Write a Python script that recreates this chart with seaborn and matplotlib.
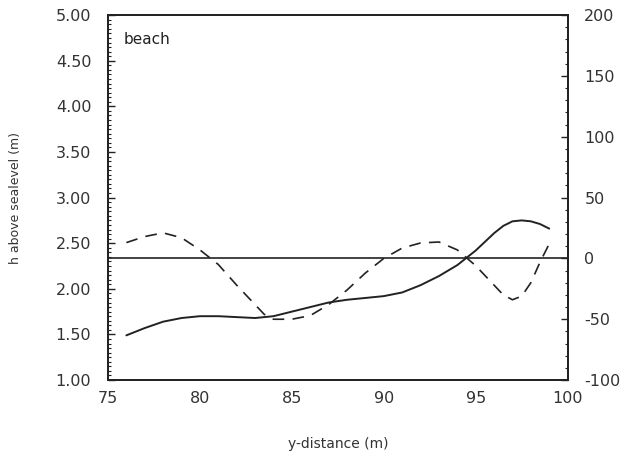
import matplotlib
matplotlib.use('Agg')
import matplotlib.pyplot as plt
from matplotlib.ticker import MultipleLocator, FormatStrFormatter
import numpy as np
import pandas as pd
import seaborn as sns

# profile height h (left axis)
x_h = [76, 77, 78, 79, 80, 81, 82, 83, 84, 85, 86, 87, 88, 89, 90, 91, 92, 93, 94, 95, 96, 96.5, 97, 97.5, 98, 98.5, 99]
h = [1.49, 1.57, 1.64, 1.68, 1.70, 1.70, 1.69, 1.68, 1.70, 1.75, 1.80, 1.85, 1.88, 1.90, 1.92, 1.96, 2.04, 2.14, 2.26, 2.42, 2.61, 2.69, 2.74, 2.75, 2.74, 2.71, 2.66]

# dashed series (right axis)
x_d = [76, 77, 78, 79, 80, 81, 82, 83, 83.5, 84, 85, 86, 87, 88, 89, 90, 91, 92, 93, 94, 95, 96, 96.5, 97, 97.5, 98, 98.5, 99]
d = [13, 18, 21, 17, 7, -5, -22, -38, -46, -50, -50, -47, -38, -26, -12, 0, 8.5, 12.7, 13.5, 7, -6, -22, -30, -34, -31, -20, -3, 12]

sns.set_style('white')
plt.rcParams['font.family'] = ['DejaVu Sans']
plt.rcParams['axes.unicode_minus'] = False

fig = plt.figure(figsize=(6.22, 4.59), dpi=100)
ax = fig.add_axes([0.1736, 0.172, 0.739, 0.795])
ax2 = ax.twinx()

sns.lineplot(x=x_h, y=h, ax=ax, color='#222222', linewidth=1.4)
sns.lineplot(x=x_d, y=d, ax=ax2, color='#222222', linewidth=1.2, linestyle=(0, (7, 5)))
ax2.axhline(0, color='#222222', linewidth=1.2)

ax.set_xlim(75, 100)
ax.set_ylim(1.0, 5.0)
ax2.set_ylim(-100, 200)

ax.xaxis.set_major_locator(MultipleLocator(5))
ax.xaxis.set_minor_locator(MultipleLocator(1))
ax.yaxis.set_major_locator(MultipleLocator(0.5))
ax.yaxis.set_minor_locator(MultipleLocator(0.05))
ax2.yaxis.set_major_locator(MultipleLocator(50))
ax2.yaxis.set_minor_locator(MultipleLocator(10))
ax.yaxis.set_major_formatter(FormatStrFormatter('%.2f'))

for a in (ax, ax2):
    a.tick_params(which='both', direction='in', colors='#222222', labelcolor='#333333', labelsize=11.5)
    a.tick_params(which='major', length=5, width=1)
    a.tick_params(which='minor', length=2.5, width=0.8)
    for s in a.spines.values():
        s.set_color('#222222')
        s.set_linewidth(1.3)
ax.tick_params(axis='y', which='both', right=False, pad=12)
ax.tick_params(axis='x', pad=8)
ax2.tick_params(axis='y', pad=12)

ax.set_xlabel('y-distance (m)', fontsize=10, color='#333333', labelpad=22)
ax.set_ylabel('h above sealevel (m)', fontsize=9, color='#333333', labelpad=24)
ax.text(0.035, 0.955, 'beach', transform=ax.transAxes, fontsize=11, color='#222222', va='top')

fig.savefig('out.png', dpi=100)
